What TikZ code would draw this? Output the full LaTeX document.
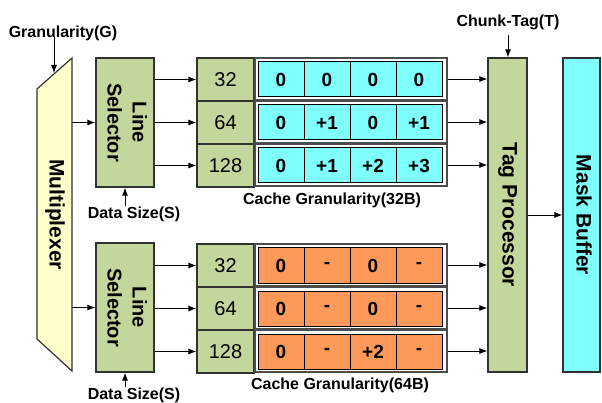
\documentclass[tikz,border=0pt]{standalone}
\usepackage{fontspec}
\setmainfont{Liberation Sans}
\usetikzlibrary{arrows.meta,calc}
\definecolor{cgreen}{RGB}{195,214,155}
\definecolor{ccyan}{RGB}{128,255,255}
\definecolor{corange}{RGB}{255,153,90}
\definecolor{cyellow}{RGB}{255,255,204}
\definecolor{edge}{RGB}{50,50,50}
\newcommand{\vtext}[1]{\rotatebox{-90}{\begin{tabular}{@{}c@{}}#1\end{tabular}}}
\tikzset{
  lbl/.style={font=\bfseries\fontsize{16}{16}\selectfont, inner sep=0},
  big/.style={font=\bfseries\fontsize{21}{25}\selectfont, inner sep=0},
  greenbox/.style={draw=edge, fill=cgreen, line width=1.2pt},
  numbox/.style={greenbox, minimum width=57pt, minimum height=43pt, inner sep=0,
    font=\fontsize{20}{20}\selectfont},
  cell/.style={draw=black, line width=1pt, minimum width=46pt, minimum height=35pt,
    inner sep=0, font=\bfseries\fontsize{19}{19}\selectfont},
  rowframe/.style={draw=black!70, fill=white, line width=1.2pt},
  arr/.style={-{Latex[length=8pt,width=6pt]}, line width=0.9pt}
}
\begin{document}
\begin{tikzpicture}[x=1pt,y=-1pt]
\useasboundingbox (0,0) rectangle (602,403);

% Multiplexer (trapezoid)
\draw[draw=edge, fill=cyellow, line width=1.2pt]
  (37,89) -- (72,58) -- (72,371) -- (37,339) -- cycle;
\node[big, minimum width=35pt, minimum height=313pt] (mux) at (54.5,214.5) {\vtext{Multiplexer}};
\node[lbl] (gran) at (63,33) {Granularity(G)};
\coordinate (granin) at (54,73);
\draw[arr] (gran.south -| granin) ++(0,-4) -- (granin);

% Line selectors
\node[greenbox, big, minimum width=58pt, minimum height=129pt,
  font=\bfseries\fontsize{20}{25}\selectfont] (ls1) at (125,122.5) {\vtext{Line\\Selector}};
\node[greenbox, big, minimum width=58pt, minimum height=129pt,
  font=\bfseries\fontsize{20}{25}\selectfont] (ls2) at (125,307.5) {\vtext{Line\\Selector}};
\draw[arr] (mux.east |- ls1) -- (ls1.west);
\draw[arr] (mux.east |- ls2) -- (ls2.west);

\node[lbl] (ds1) at (134,214) {Data Size(S)};
\node[lbl] (ds2) at (134,395) {Data Size(S)};
\draw[arr] (ls1.south |- ds1.north) -- (ls1.south);
\draw[arr] (ls2.south |- ds2.north) -- (ls2.south);

% Tag processor and mask buffer
\node[greenbox, big, minimum width=39pt, minimum height=314pt] (tp) at (507.5,215) {\vtext{Tag Processor}};
\node[draw=edge, fill=ccyan, line width=1.2pt, big, minimum width=37pt, minimum height=314pt] (mb) at (581.5,215) {\vtext{Mask Buffer}};
\draw[arr] (tp.east) -- (mb.west);
\node[lbl] (ct) at (508,22) {Chunk-Tag(T)};
\draw[arr, shorten <=5pt] (ct.south) -- (ct.south |- tp.north);

% Cache granularity rows: size box, white frame, connectors
\foreach \g/\ybase in {1/58, 2/244} {
  \foreach \r/\sz in {0/32, 1/64, 2/128} {
    \pgfmathsetmacro{\yc}{\ybase+43*\r+21.5}
    \node[numbox] (n\g\r) at (225.5,\yc) {\sz};
    \node[rowframe, minimum width=192pt, minimum height=42pt, inner sep=0] (f\g\r) at (351,\yc-0.5) {};
    \draw[arr] (ls\g.east |- n\g\r) -- (n\g\r.west);
    \draw[arr] (f\g\r.east) -- (tp.west |- f\g\r);
  }
}

% Cell contents, four cells per row
\foreach \g/\col/\r/\va/\vb/\vc/\vd in {
    1/ccyan/0/0/0/0/0, 1/ccyan/1/0/+1/0/+1, 1/ccyan/2/0/+1/+2/+3,
    2/corange/0/0/-/0/-, 2/corange/1/0/-/0/-, 2/corange/2/0/-/+2/-} {
  \node[cell, fill=\col] (c\g\r0) at ($(n\g\r.center)+(55.5,0)$) {\va};
  \node[cell, fill=\col] (c\g\r1) at ($(n\g\r.center)+(101.5,0)$) {\vb};
  \node[cell, fill=\col] (c\g\r2) at ($(n\g\r.center)+(147.5,0)$) {\vc};
  \node[cell, fill=\col] (c\g\r3) at ($(n\g\r.center)+(193.5,0)$) {\vd};
}

\node[lbl] (cg1) at (332,200) {Cache Granularity(32B)};
\node[lbl] (cg2) at (340,385) {Cache Granularity(64B)};
\end{tikzpicture}
\end{document}
